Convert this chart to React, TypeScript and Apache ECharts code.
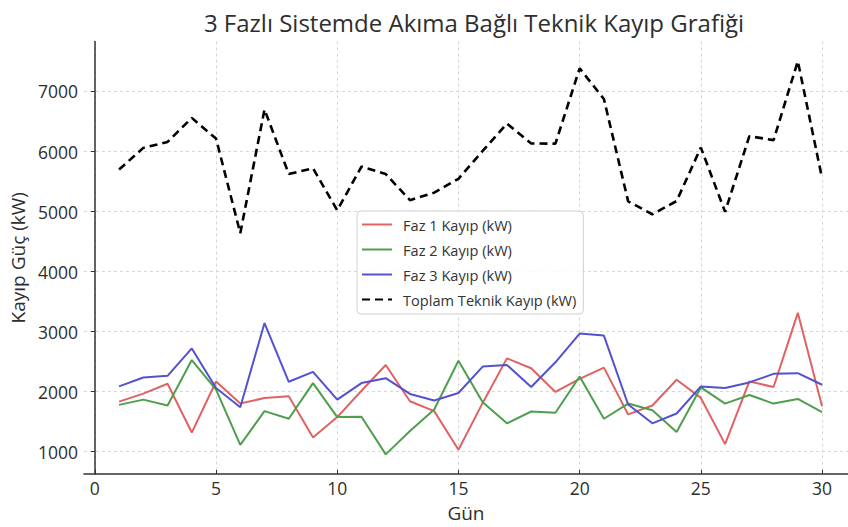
import React, { useEffect, useRef } from "react";
import * as echarts from "echarts";

const days = Array.from({ length: 30 }, (_, i) => i + 1);

const faz1 = [1835, 1967, 2132, 1319, 2170, 1802, 1896, 1923, 1236, 1577, 2016, 2445, 1841, 1676, 1033,
  1813, 2555, 2390, 1995, 2214, 2401, 1621, 1769, 2198, 1896, 1126, 2170, 2077, 3313, 1758];
const faz2 = [1780, 1868, 1769, 2527, 2033, 1115, 1676, 1549, 2143, 1577, 1582, 956, 1346, 1703, 2516,
  1824, 1473, 1670, 1648, 2253, 1549, 1802, 1692, 1330, 2071, 1802, 1945, 1802, 1879, 1659];
const faz3 = [2088, 2236, 2264, 2720, 2060, 1742, 3143, 2165, 2330, 1868, 2143, 2225, 1962, 1852, 1978,
  2418, 2445, 2077, 2489, 2967, 2934, 1786, 1473, 1637, 2088, 2060, 2154, 2297, 2308, 2115];
const toplam = [5700, 6060, 6160, 6560, 6215, 4640, 6700, 5625, 5720, 5020, 5750, 5625, 5190, 5315, 5545,
  6010, 6465, 6135, 6130, 7385, 6875, 5170, 4955, 5175, 6065, 4995, 6255, 6190, 7505, 5555];

const seriesNames = ["Faz 1 Kayıp (kW)", "Faz 2 Kayıp (kW)", "Faz 3 Kayıp (kW)", "Toplam Teknik Kayıp (kW)"];
const xTicks = [0, 5, 10, 15, 20, 25, 30];
const yTicks = [1000, 2000, 3000, 4000, 5000, 6000, 7000];

const FONT = "Open Sans";

export default function App() {
  const ref = useRef<HTMLDivElement>(null);
  useEffect(() => {
    document.body.style.margin = "0";
    const chart = echarts.init(ref.current!, null, { renderer: "svg" });
    const mk = (arr: number[]) => arr.map((v, i) => [days[i], v]);
    chart.setOption({
      animation: false,
      backgroundColor: "#ffffff",
      title: {
        text: "3 Fazlı Sistemde Akıma Bağlı Teknik Kayıp Grafiği",
        left: 469,
        top: 5,
        textAlign: "center",
        textStyle: { fontFamily: FONT, fontSize: 24, fontWeight: "normal", color: "#2e2e2e" },
      },
      legend: {
        orient: "vertical",
        left: 357,
        top: 211,
        padding: [6, 7, 7, 4],
        itemWidth: 30,
        itemHeight: 14,
        itemGap: 10,
        backgroundColor: "rgba(255,255,255,0.85)",
        borderColor: "#d0d0d0",
        borderWidth: 1,
        borderRadius: 4,
        itemStyle: { opacity: 0 },
        textStyle: { fontFamily: FONT, fontSize: 14.6, color: "#333", padding: [0, 0, 0, 6] },
        data: seriesNames,
      },
      grid: { left: 82, right: 0, top: 41.5, bottom: 48.5 },
      xAxis: {
        type: "value",
        min: -0.45,
        max: 31.07,
        name: "Gün",
        nameLocation: "middle",
        nameGap: 29,
        nameTextStyle: { fontFamily: FONT, fontSize: 19, color: "#2e2e2e" },
        axisLine: { show: true, lineStyle: { color: "#333", width: 1.5 } },
        axisTick: { show: true, inside: true, length: 4, customValues: xTicks, lineStyle: { color: "#333" } },
        axisLabel: { customValues: xTicks, fontFamily: FONT, fontSize: 17.5, color: "#2e2e2e", margin: 5 },
        splitLine: { show: true, lineStyle: { color: "#d6d6d6", type: [3, 3], width: 1 } },
      },
      yAxis: {
        type: "value",
        min: 629,
        max: 7832,
        name: "Kayıp Güç (kW)",
        nameLocation: "middle",
        nameRotate: 90,
        nameGap: 52,
        nameTextStyle: { fontFamily: FONT, fontSize: 19, color: "#2e2e2e" },
        axisLine: { show: true, lineStyle: { color: "#333", width: 1.5 } },
        axisTick: { show: true, inside: false, length: 4, customValues: yTicks, lineStyle: { color: "#333" } },
        axisLabel: {
          customValues: yTicks, fontFamily: FONT, fontSize: 17.5, color: "#2e2e2e", margin: 6,
          formatter: (v: number) => String(v),
        },
        splitLine: { show: true, lineStyle: { color: "#d6d6d6", type: [3, 3], width: 1 } },
      },
      series: [
        { name: seriesNames[0], type: "line", symbol: "none", data: mk(faz1), color: "#e06262",
          lineStyle: { width: 2, color: "#e06262" } },
        { name: seriesNames[1], type: "line", symbol: "none", data: mk(faz2), color: "#4e9e4e",
          lineStyle: { width: 2, color: "#4e9e4e" } },
        { name: seriesNames[2], type: "line", symbol: "none", data: mk(faz3), color: "#5252cf",
          lineStyle: { width: 2, color: "#5252cf" } },
        { name: seriesNames[3], type: "line", symbol: "none", data: mk(toplam), color: "#000000",
          lineStyle: { width: 2.6, color: "#000000", type: [8, 5] } },
      ],
    });
    return () => chart.dispose();
  }, []);
  return <div ref={ref} style={{ width: 848, height: 527 }} />;
}
